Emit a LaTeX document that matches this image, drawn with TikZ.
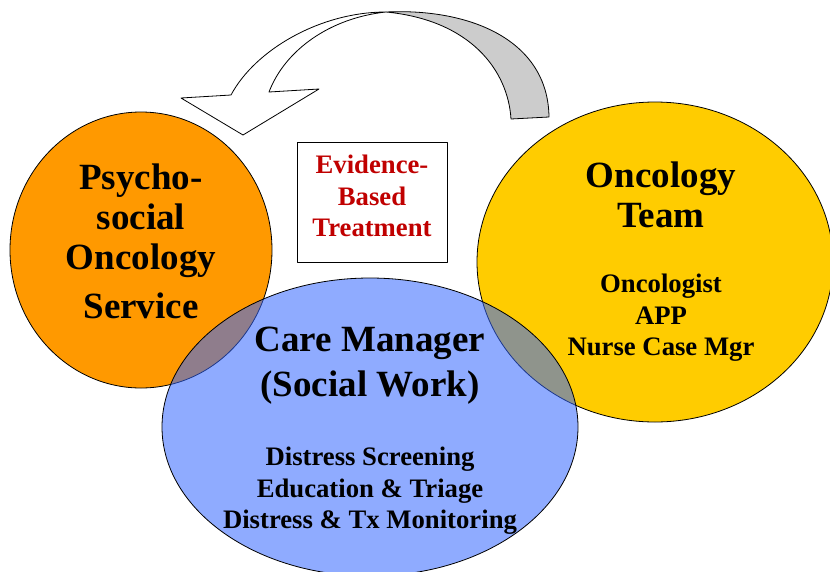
\documentclass[tikz,border=0pt]{standalone}
\usepackage{fontspec}
\setmainfont{Liberation Serif}
\usepackage{tikz}
\definecolor{psyorange}{HTML}{FF9900}
\definecolor{oncyellow}{HTML}{FFCC00}
\definecolor{careblue}{HTML}{3366FF}
\definecolor{tailgray}{HTML}{CCCCCC}
\definecolor{ebtred}{HTML}{C00000}
\newcommand{\bigtxt}{\fontsize{37}{40}\selectfont\bfseries}
\newcommand{\smalltxt}{\fontsize{26.7}{31.5}\selectfont\bfseries}

\begin{document}
\begin{tikzpicture}[line cap=round,line join=round,x=1pt,y=-1pt,
  rim/.style={line width=0.8pt},
  txt/.style={align=center,inner sep=0pt}]
\clip (0,0) rectangle (830,571);
% return arrow over the top
\draw [rim,fill=tailgray] (511,119) -- (549,117) .. controls (548,40) and (470,8) .. (386,12)
  .. controls (470,20) and (508,70) .. (511,119) -- cycle;
\draw [rim,fill=white] (386,12) .. controls (320,12) and (255,50) .. (231,95) -- (181,98) -- (243,135)
  -- (319,89) -- (269,92) .. controls (285,50) and (330,18) .. (386,12) -- cycle;
% the three teams
\draw [rim,fill=psyorange] (141,250) ellipse (131pt and 138pt);
\draw [rim,fill=oncyellow] (655,262) ellipse (178pt and 160pt);
\draw [rim,fill=careblue,fill opacity=0.55] (370,427) ellipse (208pt and 149pt);
% labels
\node (psy) [txt,font=\bigtxt] at (141,241) {Psycho-\\social\\Oncology\\[9pt]Service};
\node (team) [txt,font=\bigtxt] at (661,195) {Oncology\\Team};
\node (staff) [txt,font=\smalltxt] at (661,318) {Oncologist\\APP\\Nurse Case Mgr};
\node (care) [txt,font=\bigtxt] at (370,366) {Care Manager\\[5pt](Social Work)};
\node (tasks) [txt,font=\smalltxt] at (370,491) {Distress Screening\\Education \& Triage\\Distress \& Tx Monitoring};
% evidence box
\node (ebt) [rim,draw,fill=white,minimum width=150pt,minimum height=120pt] at (372,202) {};
\node (ebttxt) [txt,font=\smalltxt,text=ebtred] at (372,196) {Evidence-\\Based\\Treatment};
\end{tikzpicture}
\end{document}
